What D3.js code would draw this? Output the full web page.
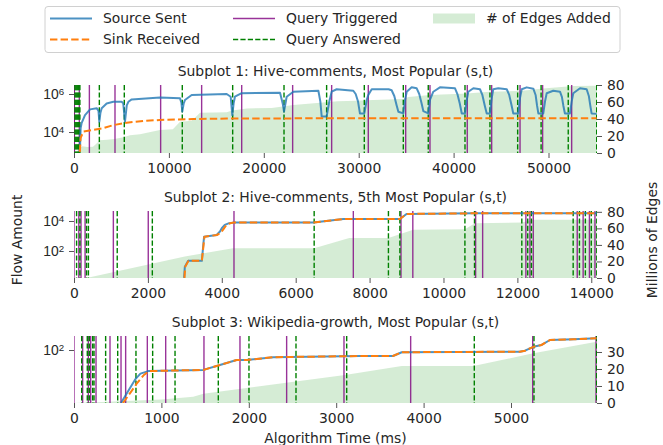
<!DOCTYPE html>
<html>
<head>
<meta charset="utf-8">
<script src="https://cdn.jsdelivr.net/npm/d3@7"></script>
<style>
body { margin: 0; background: #fff; }
svg { font-family: 'DejaVu Sans', sans-serif; }
</style>
</head>
<body>
<svg width="663" height="445"></svg>
<script>
// ---- data ----
var titles = ['Subplot 1: Hive-comments, Most Popular (s,t)',
    'Subplot 2: Hive-comments, 5th Most Popular (s,t)',
    'Subplot 3: Wikipedia-growth, Most Popular (s,t)'];
var legendLabels = ['Source Sent', 'Sink Received', 'Query Triggered', 'Query Answered', '# of Edges Added'];

// subplot 1
var s1SrcTime = [620, 700, 800, 1160, 1690, 2390, 2580, 2670, 2780, 2920, 3440, 4140, 5020, 5190, 5370, 5560, 5730, 6080,
    9060, 11170, 11320, 11410, 11560, 11690, 12400, 16090, 16510, 16680, 16820, 16960, 17670, 21710, 21990, 22130,
    22410, 23110, 25750, 25960, 26100, 26620, 26900, 27150, 27680, 29430, 29680, 29930, 30130, 30590, 30850, 31010,
    31370, 33150, 33470, 33750, 34000, 34180, 34700, 34890, 35060, 35580, 36110, 36380, 36630, 36810, 37330, 37520,
    37860, 38560, 40150, 40400, 40650, 40860, 41200, 41390, 41550, 42080, 42780, 43030, 43280, 43490, 43830, 44020,
    44180, 44710, 45600, 45860, 46110, 46290, 46820, 47000, 47180, 47700, 48400, 48640, 48790, 48930, 49450, 49630,
    49810, 50500, 51210, 51410, 51560, 51730, 52260, 52440, 52610, 53320, 54020, 54250, 54400, 54540, 55070];
var s1SrcVal = [900, 1.6e4, 2.9e4, 7.8e4, 1.55e5, 1.8e5, 1.3e5, 3.5e4, 1.0e5, 1.8e5, 3.2e5, 3.9e5, 3.9e5, 3.2e5, 3.5e4, 2.5e5, 3.9e5, 5.2e5,
    6.5e5, 5.9e5, 3.5e5, 1.2e5, 3.2e5, 4.8e5, 8.9e5, 1.0e6, 7.2e5, 7.8e4, 3.2e5, 7.2e5, 1.1e6, 1.17e6, 3.2e5, 1.2e5,
    7.2e5, 1.32e6, 1.48e6, 4.0e5, 6.5e4, 6.5e4, 4.0e5, 1.32e6, 1.78e6, 1.48e6, 1.0e6, 4.0e5, 9.5e4, 9.5e4, 5.0e5, 8.9e5,
    1.78e6, 1.78e6, 1.58e6, 7.9e5, 2.5e5, 1.17e5, 9.5e4, 5.0e5, 1.32e6, 2.24e6, 2.0e6, 1.0e6, 3.16e5, 1.26e5, 9.5e4, 5.0e5,
    1.32e6, 2.24e6, 2.0e6, 1.0e6, 3.16e5, 9.5e4, 9.5e4, 5.0e5, 1.32e6, 2.0e6, 1.78e6, 8.9e5, 2.5e5, 9.5e4, 9.5e4, 6.3e5,
    1.78e6, 2.0e6, 1.78e6, 8.9e5, 2.5e5, 9.5e4, 9.5e4, 6.3e5, 1.78e6, 2.24e6, 1.9e6, 8.9e5, 2.5e5, 9.5e4, 9.5e4, 4.0e5,
    1.1e6, 1.48e6, 1.32e6, 7.1e5, 2.5e5, 9.5e4, 9.5e4, 4.0e5, 1.1e6, 2.0e6, 1.78e6, 7.9e5, 2.5e5, 9.5e4, 9.0e4];
var s1SinkTime = [620, 700, 990, 1890, 2980, 4140, 5560, 7320, 9060, 12580, 16090, 24800, 55080];
var s1SinkVal = [900, 5000, 1.05e4, 1.26e4, 1.55e4, 2.3e4, 3.1e4, 3.8e4, 4.3e4, 4.8e4, 5.1e4, 5.25e4, 5.3e4];
var s1EdgeTime = [0, 300, 640, 900, 1400, 2000, 2210, 2740, 3470, 4270, 5200, 5900, 6950, 9060, 10420, 11170, 12410,
    13280, 16090, 16680, 18190, 20840, 23110, 25920, 27790, 29790, 30770, 34700, 35240, 37510, 41380, 43830, 46990,
    49450, 52620, 55080];
var s1EdgeVal = [0, 2, 6, 8, 7, 7.5, 9.5, 15, 15.5, 16.5, 18.4, 21, 22, 27, 28, 36.8, 38, 47.4, 48, 50, 52.5, 53, 56.5,
    59, 61, 61.5, 62, 63.5, 66, 68.2, 70, 72, 73, 76, 78.8, 79];
var s1Triggered = [0, 40, 560, 1620, 4320, 9130, 13450, 17670, 23040, 27150, 31010, 34950, 37510, 41440, 44010, 47000, 49380, 52440];
var s1Answered = [100, 200, 300, 400, 500, 620, 2670, 5300, 11410, 16720, 22130, 26620, 30590, 34700, 37330, 41200,
    43830, 46750, 49220, 52080, 55080];
var s1XTicks = [0, 10000, 20000, 30000, 40000, 50000];
var s1YTicks = [1e4, 1e6];
var s1Y2Ticks = [0, 20, 40, 60, 80];

// subplot 2
var s2SrcTime = [2980, 3000, 3090, 3460, 3520, 3860, 3950, 4000, 4080, 4200, 4310, 6480, 7290, 8820, 9000, 10800, 14150];
var s2SrcVal = [1.6, 9, 22, 22, 890, 1170, 2000, 3300, 5500, 7200, 7800, 7800, 13500, 13500, 29500, 32500, 32500];
var s2SinkTime = [2990, 3010, 3100, 3460, 3530, 3870, 3980, 4050, 4120, 4230, 4320, 6480, 7290, 8820, 9000, 10800, 14150];
var s2SinkVal = [1.6, 9, 22, 22, 890, 1170, 1700, 3000, 5200, 7200, 7800, 7800, 13500, 13500, 29500, 32500, 32500];
var s2EdgeTime = [0, 340, 3000, 4300, 6500, 7450, 8510, 9180, 10580, 10850, 12120, 12430, 14150];
var s2EdgeVal = [0, 0, 26, 36, 36, 48.4, 48.5, 58.2, 59, 66.3, 67, 70.3, 70.3];
var s2Triggered = [0, 130, 190, 300, 1065, 2010, 4330, 7560, 8850, 9170, 10870, 11060, 12230, 12340, 12430, 13620, 13780, 13950, 14100];
var s2Answered = [70, 160, 340, 390, 1170, 2120, 6500, 8510, 8820, 10580, 10840, 12120, 12280, 12380, 13510, 13680, 13840, 14000, 14150];
var s2XTicks = [0, 2000, 4000, 6000, 8000, 10000, 12000, 14000];
var s2YTicks = [1e2, 1e4];
var s2Y2Ticks = [0, 20, 40, 60, 80];

// subplot 3
var s3SrcTime = [538, 603, 700, 760, 850, 1480, 1670, 1860, 1976, 2280, 3270, 3650, 3750, 5100, 5160, 5255, 5350, 5446, 5713, 5980];
var s3SrcVal = [17.5, 24, 38, 46, 50, 52, 61, 72, 72, 79, 82, 82, 93, 94.5, 97.7, 111, 118, 139, 142, 147];
var s3SinkTime = [560, 650, 717, 800, 860, 1480, 1670, 1860, 1976, 2280, 3270, 3650, 3750, 5100, 5160, 5255, 5350, 5446, 5713, 5980];
var s3SinkVal = [17.5, 25, 33, 44, 50, 52, 61, 72, 72, 79, 82, 82, 93, 94.5, 97.7, 111, 118, 139, 142, 147];
var s3EdgeTime = [0, 250, 1000, 1365, 1480, 3100, 3750, 4570, 5255, 5980];
var s3EdgeVal = [0, 0.5, 2, 3.7, 5.5, 16.5, 21.8, 21.8, 29.2, 36];
var s3Triggered = [0, 99, 164, 191, 252, 412, 538, 591, 839, 1049, 1487, 1899, 2433, 3089, 3852, 5248, 5973];
var s3Answered = [88, 152, 175, 214, 229, 362, 500, 709, 900, 1156, 1651, 2002, 2540, 3120, 4580, 5263, 5980];
var s3XTicks = [0, 1000, 2000, 3000, 4000, 5000];
var s3YTicks = [1e2];
var s3Y2Ticks = [0, 10, 20, 30];

// ---- layout ----
var svg = d3.select('svg');
var fontSize = 13.9;
var plotLeft = 74, plotRight = 597;
var colors = {src: '#1f77b4', sink: '#ff7f0e', trig: '#800080', ans: '#008000', edge: '#2ca02c'};

var panels = [
    {title: titles[0], top: 85, h: 68, xMax: 55110, yDomain: [785, 2.98e6], y2Max: 80,
        src: d3.zip(s1SrcTime, s1SrcVal), sink: d3.zip(s1SinkTime, s1SinkVal), edge: d3.zip(s1EdgeTime, s1EdgeVal),
        trig: s1Triggered, ans: s1Answered, xTicks: s1XTicks, yTicks: s1YTicks, y2Ticks: s1Y2Ticks},
    {title: titles[1], top: 211, h: 67, xMax: 14155, yDomain: [1.585, 46400], y2Max: 81,
        src: d3.zip(s2SrcTime, s2SrcVal), sink: d3.zip(s2SinkTime, s2SinkVal), edge: d3.zip(s2EdgeTime, s2EdgeVal),
        trig: s2Triggered, ans: s2Answered, xTicks: s2XTicks, yTicks: s2YTicks, y2Ticks: s2Y2Ticks},
    {title: titles[2], top: 336, h: 67, xMax: 5984, yDomain: [17.5, 158.5], y2Max: 39.4,
        src: d3.zip(s3SrcTime, s3SrcVal), sink: d3.zip(s3SinkTime, s3SinkVal), edge: d3.zip(s3EdgeTime, s3EdgeVal),
        trig: s3Triggered, ans: s3Answered, xTicks: s3XTicks, yTicks: s3YTicks, y2Ticks: s3Y2Ticks}
];

function styleAxis(g) {
    g.select('.domain').remove();
    g.selectAll('.tick line').attr('stroke', '#555').attr('stroke-width', 1);
    g.selectAll('.tick text').attr('fill', '#262626').style('font-size', fontSize + 'px')
        .style('font-family', "'DejaVu Sans', sans-serif");
}

panels.forEach(function(p, i) {
    var bottom = p.top + p.h;
    var x = d3.scaleLinear().domain([0, p.xMax]).range([plotLeft, plotRight]);
    var y = d3.scaleLog().domain(p.yDomain).range([bottom, p.top]);
    var y2 = d3.scaleLinear().domain([0, p.y2Max]).range([bottom, p.top]);

    var g = svg.append('g').attr('class', 'panel');
    svg.append('clipPath').attr('id', 'clip' + i)
        .append('rect').attr('x', plotLeft).attr('y', p.top).attr('width', plotRight - plotLeft).attr('height', p.h);
    var plot = g.append('g').attr('clip-path', 'url(#clip' + i + ')');

    // edges added (twin axis)
    plot.append('path')
        .datum(p.edge)
        .attr('fill', colors.edge).attr('fill-opacity', 0.2)
        .attr('d', d3.area().x(function(d) { return x(d[0]); }).y0(y2(0)).y1(function(d) { return y2(d[1]); }));

    // query markers
    plot.selectAll('.trig').data(p.trig).enter().append('line')
        .attr('class', 'trig')
        .attr('x1', function(d) { return x(d); }).attr('x2', function(d) { return x(d); })
        .attr('y1', p.top).attr('y2', bottom)
        .attr('stroke', colors.trig).attr('stroke-width', 1.4).attr('stroke-opacity', 0.8);
    plot.selectAll('.ans').data(p.ans).enter().append('line')
        .attr('class', 'ans')
        .attr('x1', function(d) { return x(d); }).attr('x2', function(d) { return x(d); })
        .attr('y1', p.top).attr('y2', bottom)
        .attr('stroke', colors.ans).attr('stroke-width', 1.4).attr('stroke-dasharray', '5.2,2.2');

    var line = d3.line().x(function(d) { return x(d[0]); }).y(function(d) { return y(d[1]); });
    plot.append('path').datum(p.src)
        .attr('fill', 'none').attr('stroke', colors.src).attr('stroke-opacity', 0.8)
        .attr('stroke-width', 2).attr('stroke-linejoin', 'round').attr('d', line);
    plot.append('path').datum(p.sink)
        .attr('fill', 'none').attr('stroke', colors.sink)
        .attr('stroke-width', 2).attr('stroke-dasharray', '7.4,3.2').attr('d', line);

    // axes
    g.append('g').attr('transform', 'translate(0,' + bottom + ')')
        .call(d3.axisBottom(x).tickValues(p.xTicks).tickFormat(d3.format('d')).tickSize(5).tickPadding(4.9))
        .call(styleAxis);

    var yAxis = g.append('g').attr('transform', 'translate(' + plotLeft + ',0)')
        .call(d3.axisLeft(y).tickValues(p.yTicks).tickFormat('').tickSize(5))
        .call(styleAxis);
    yAxis.selectAll('.tick').append('text')
        .attr('x', -9.9).attr('dy', '0.32em').attr('text-anchor', 'end')
        .attr('fill', '#262626').style('font-size', fontSize + 'px')
        .each(function(d) {
            var t = d3.select(this);
            t.append('tspan').text('10');
            t.append('tspan').attr('dy', '-0.45em').style('font-size', '9.7px')
                .text(Math.round(Math.log10(d)));
        });

    g.append('g').attr('transform', 'translate(' + plotRight + ',0)')
        .call(d3.axisRight(y2).tickValues(p.y2Ticks).tickSize(5).tickPadding(4.9))
        .call(styleAxis);

    g.append('text')
        .attr('x', (plotLeft + plotRight) / 2).attr('y', p.top - 9)
        .attr('text-anchor', 'middle').attr('fill', '#262626')
        .style('font-size', fontSize + 'px')
        .text(p.title);
});

// shared labels
svg.append('text')
    .attr('transform', 'translate(22,240) rotate(-90)')
    .attr('text-anchor', 'middle').attr('fill', '#262626').style('font-size', fontSize + 'px')
    .text('Flow Amount');
svg.append('text')
    .attr('transform', 'translate(657,240) rotate(-90)')
    .attr('text-anchor', 'middle').attr('fill', '#262626').style('font-size', fontSize + 'px')
    .text('Millions of Edges');
svg.append('text')
    .attr('x', (plotLeft + plotRight) / 2).attr('y', 443)
    .attr('text-anchor', 'middle').attr('fill', '#262626').style('font-size', fontSize + 'px')
    .text('Algorithm Time (ms)');

// legend
var legend = svg.append('g').attr('class', 'legend');
legend.append('rect')
    .attr('x', 45).attr('y', 6.5).attr('width', 575).attr('height', 46).attr('rx', 3)
    .attr('fill', '#fff').attr('fill-opacity', 0.8).attr('stroke', '#d0d0d0');
var legendItems = [
    {label: legendLabels[0], col: 0, row: 0, kind: 'line', color: colors.src, dash: null, opacity: 0.8},
    {label: legendLabels[1], col: 0, row: 1, kind: 'line', color: colors.sink, dash: '7.4,3.2', opacity: 1},
    {label: legendLabels[2], col: 1, row: 0, kind: 'line', color: colors.trig, dash: null, opacity: 0.8, width: 1.4},
    {label: legendLabels[3], col: 1, row: 1, kind: 'line', color: colors.ans, dash: '5.2,2.2', opacity: 1, width: 1.4},
    {label: legendLabels[4], col: 2, row: 0, kind: 'patch', color: colors.edge}
];
var colX = [50, 233, 433];
var rowY = [18.5, 39.5];
legendItems.forEach(function(it) {
    var x0 = colX[it.col], yc = rowY[it.row];
    if (it.kind === 'line') {
        legend.append('line')
            .attr('x1', x0).attr('x2', x0 + 42).attr('y1', yc).attr('y2', yc)
            .attr('stroke', it.color).attr('stroke-width', it.width || 2)
            .attr('stroke-opacity', it.opacity).attr('stroke-dasharray', it.dash);
    } else {
        legend.append('rect')
            .attr('x', x0).attr('y', yc - 5).attr('width', 42).attr('height', 10)
            .attr('fill', it.color).attr('fill-opacity', 0.2);
    }
    legend.append('text')
        .attr('x', x0 + 53).attr('y', yc).attr('dy', '0.35em')
        .attr('fill', '#262626').style('font-size', fontSize + 'px')
        .text(it.label);
});
</script>
</body>
</html>
